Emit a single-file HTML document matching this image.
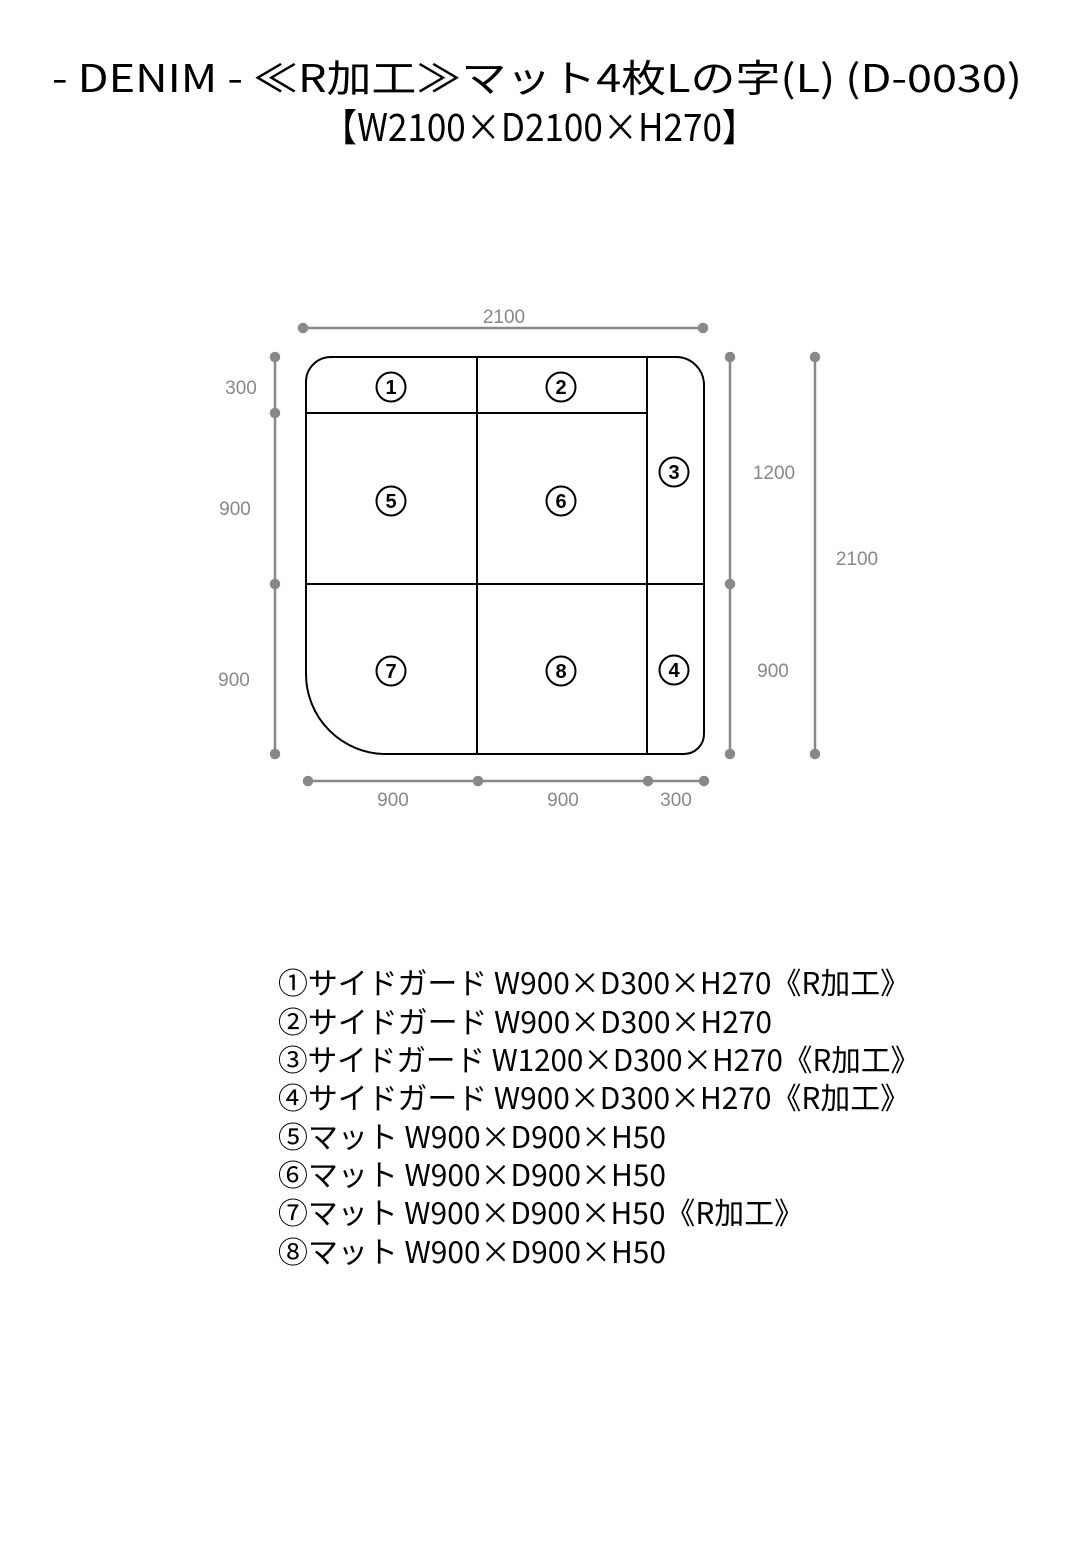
<!DOCTYPE html>
<html><head><meta charset="utf-8"><style>
html,body{margin:0;padding:0;background:#fff;}
svg{display:block;}
.t{font-family:"Noto Sans CJK JP","Liberation Sans",sans-serif;fill:#000;}
.d{font-family:"Liberation Sans",sans-serif;fill:#888;font-size:19px;}
.n{font-family:"Liberation Sans",sans-serif;font-size:20px;font-weight:bold;fill:#000;}
</style></head><body>
<svg width="1080" height="1560" viewBox="0 0 1080 1560" xmlns="http://www.w3.org/2000/svg">
<text class="t" x="52" y="92" font-size="38" textLength="970" lengthAdjust="spacingAndGlyphs">- DENIM - ≪R加工≫マット4枚Lの字(L) (D-0030)</text>
<text class="t" x="322" y="141" font-size="38" textLength="435" lengthAdjust="spacingAndGlyphs">【W2100×D2100×H270】</text>

<g stroke="#888" stroke-width="2.5" fill="#888">
<line x1="303" y1="328" x2="703" y2="328"/><circle cx="303" cy="328" r="4"/><circle cx="703" cy="328" r="4"/>
<line x1="275" y1="357" x2="275" y2="754"/><circle cx="275" cy="357" r="4"/><circle cx="275" cy="413" r="4"/><circle cx="275" cy="584" r="4"/><circle cx="275" cy="754" r="4"/>
<line x1="730" y1="357" x2="730" y2="754"/><circle cx="730" cy="357" r="4"/><circle cx="730" cy="584" r="4"/><circle cx="730" cy="754" r="4"/>
<line x1="815" y1="357" x2="815" y2="754"/><circle cx="815" cy="357" r="4"/><circle cx="815" cy="754" r="4"/>
<line x1="308" y1="781" x2="704" y2="781"/><circle cx="308" cy="781" r="4"/><circle cx="478" cy="781" r="4"/><circle cx="648" cy="781" r="4"/><circle cx="704" cy="781" r="4"/>
</g>
<g stroke="none">
<text class="d" x="504" y="323" text-anchor="middle">2100</text>
<text class="d" x="241" y="394" text-anchor="middle">300</text>
<text class="d" x="235" y="515" text-anchor="middle">900</text>
<text class="d" x="234" y="686" text-anchor="middle">900</text>
<text class="d" x="774" y="479" text-anchor="middle">1200</text>
<text class="d" x="773" y="677" text-anchor="middle">900</text>
<text class="d" x="857" y="565" text-anchor="middle">2100</text>
<text class="d" x="393" y="806" text-anchor="middle">900</text>
<text class="d" x="563" y="806" text-anchor="middle">900</text>
<text class="d" x="676" y="806" text-anchor="middle">300</text>
</g>

<g fill="none" stroke="#000" stroke-width="2">
<path d="M331 357 H676 A28 28 0 0 1 704 385 V734 A20 20 0 0 1 684 754 H386 A80 80 0 0 1 306 674 V382 A25 25 0 0 1 331 357 Z"/>
<line x1="477" y1="357" x2="477" y2="754"/>
<line x1="647" y1="357" x2="647" y2="754"/>
<line x1="306" y1="413" x2="647" y2="413"/>
<line x1="306" y1="584" x2="704" y2="584"/>
<circle cx="391" cy="387" r="14.5"/>
<circle cx="561" cy="387" r="14.5"/>
<circle cx="674" cy="472" r="14.5"/>
<circle cx="674" cy="670" r="14.5"/>
<circle cx="391" cy="501" r="14.5"/>
<circle cx="561" cy="501" r="14.5"/>
<circle cx="391" cy="671" r="14.5"/>
<circle cx="561" cy="671" r="14.5"/>
</g>
<g>
<text class="n" x="391" y="394" text-anchor="middle">1</text>
<text class="n" x="561" y="394" text-anchor="middle">2</text>
<text class="n" x="674" y="479" text-anchor="middle">3</text>
<text class="n" x="674" y="677" text-anchor="middle">4</text>
<text class="n" x="391" y="508" text-anchor="middle">5</text>
<text class="n" x="561" y="508" text-anchor="middle">6</text>
<text class="n" x="391" y="678" text-anchor="middle">7</text>
<text class="n" x="561" y="678" text-anchor="middle">8</text>
</g>

<g>
<text class="t" x="278" y="994" font-size="30" textLength="632" lengthAdjust="spacingAndGlyphs">①サイドガード W900×D300×H270《R加工》</text>
<text class="t" x="278" y="1033" font-size="30" textLength="494" lengthAdjust="spacingAndGlyphs">②サイドガード W900×D300×H270</text>
<text class="t" x="278" y="1071" font-size="30" textLength="642" lengthAdjust="spacingAndGlyphs">③サイドガード W1200×D300×H270《R加工》</text>
<text class="t" x="278" y="1109" font-size="30" textLength="632" lengthAdjust="spacingAndGlyphs">④サイドガード W900×D300×H270《R加工》</text>
<text class="t" x="278" y="1148" font-size="30" textLength="388" lengthAdjust="spacingAndGlyphs">⑤マット W900×D900×H50</text>
<text class="t" x="278" y="1186" font-size="30" textLength="388" lengthAdjust="spacingAndGlyphs">⑥マット W900×D900×H50</text>
<text class="t" x="278" y="1224" font-size="30" textLength="526" lengthAdjust="spacingAndGlyphs">⑦マット W900×D900×H50《R加工》</text>
<text class="t" x="278" y="1263" font-size="30" textLength="388" lengthAdjust="spacingAndGlyphs">⑧マット W900×D900×H50</text>
</g>
</svg>
</body></html>
